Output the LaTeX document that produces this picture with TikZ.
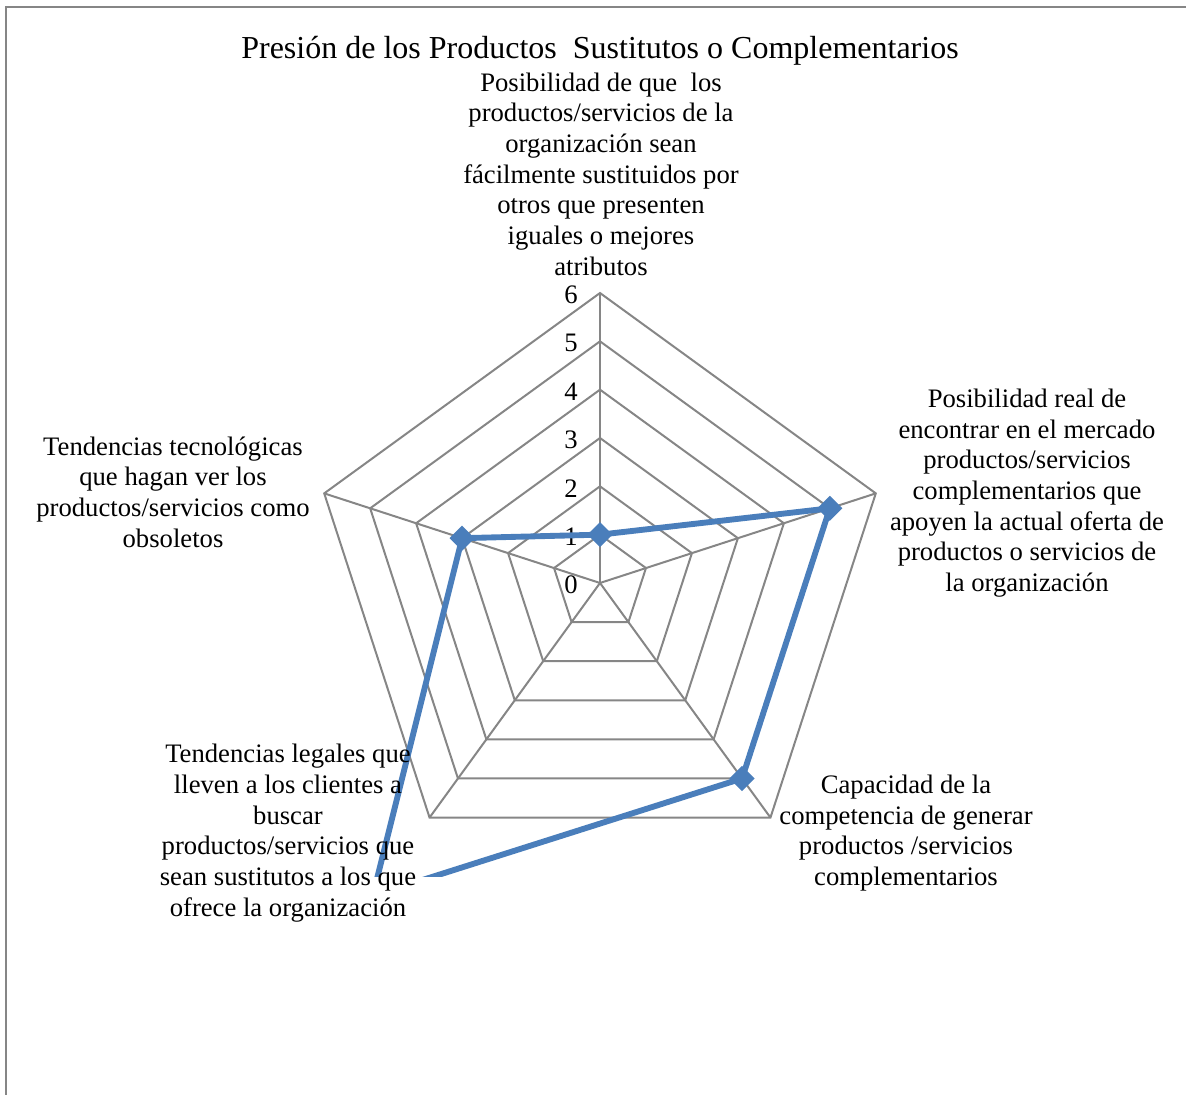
\documentclass[tikz,border=0pt]{standalone}
\usepackage{fontspec}
\setmainfont{Liberation Serif}
\usetikzlibrary{shapes.geometric,calc}
\definecolor{gridgray}{RGB}{134,134,134}
\definecolor{serieblue}{RGB}{74,126,187}
\begin{document}
\begin{tikzpicture}[x=0.75pt,y=0.75pt,
  gridline/.style={draw=gridgray,line width=1.5pt},
  series/.style={draw=serieblue,line width=4.4pt,line join=round},
  marker/.style={shape=diamond,fill=serieblue,inner sep=0pt,minimum size=19pt},
  lbl/.style={align=center,inner sep=0pt,font=\fontsize{20}{23}\selectfont},
  tick/.style={anchor=east,inner sep=0pt,font=\fontsize{20}{23}\selectfont},
  frame/.style={draw=gridgray,line width=1.5pt}]
\useasboundingbox (0,0) rectangle (1186,1095);
% chart frame (top and left edges)
\draw[frame] (1186,1088) -- (6,1088) -- (6,0);
% title
\node[inner sep=0pt,font=\fontsize{24}{28}\selectfont] (title) at (600,1044) {Presión de los Productos\ \ Sustitutos o Complementarios};
% centre of the radar and unit length
\coordinate (O) at (600,512);
\def\u{48.33}
% pentagonal grid
\foreach \k in {1,...,6}{
  \draw[gridline] ($(O)+(90:\k*\u)$) -- ($(O)+(18:\k*\u)$) -- ($(O)+(-54:\k*\u)$) -- ($(O)+(-126:\k*\u)$) -- ($(O)+(162:\k*\u)$) -- cycle;
}
\foreach \a/\n in {90/1,18/2,-54/3,-126/4,162/5}{
  \coordinate (v\n) at ($(O)+(\a:6*\u)$);
  \draw[gridline] (O) -- (v\n);
}
% scale values along the first axis
\foreach \k in {0,...,6}{
  \node[tick] (t\k) at (578,510+\k*\u) {\k};
}
% data points: 1, 5, 5, 8, 3
\coordinate (d1) at ($(O)+(90:1*\u)$);
\coordinate (d2) at ($(O)+(18:5*\u)$);
\coordinate (d3) at ($(O)+(-54:5*\u)$);
\coordinate (d4) at ($(O)+(-126:8*\u)$);
\coordinate (d5) at ($(O)+(162:3*\u)$);
\begin{scope}
  \clip (0,218) rectangle (1186,1095);
  \draw[series] (d1) -- (d2) -- (d3) -- (d4) -- (d5) -- cycle;
\end{scope}
\foreach \n in {1,2,3,5}{
  \node[marker] (m\n) at (d\n) {};
}
% axis captions
\node[lbl] (lab1) at (601,921) {Posibilidad de que\ \ los\\productos/servicios de la\\organización sean\\fácilmente sustituidos por\\otros que presenten\\iguales o mejores\\atributos};
\node[lbl] (lab2) at (1027,602) {Posibilidad real de\\encontrar en el mercado\\productos/servicios\\complementarios que\\apoyen la actual oferta de\\productos o servicios de\\la organización};
\node[lbl] (lab3) at (906,262) {Capacidad de la\\competencia de generar\\productos /servicios\\complementarios};
\node[lbl] (lab4) at (288,262) {Tendencias legales que\\lleven a los clientes a\\buscar\\productos/servicios que\\sean sustitutos a los que\\ofrece la organización};
\node[lbl] (lab5) at (173,603) {Tendencias tecnológicas\\que hagan ver los\\productos/servicios como\\obsoletos};
\end{tikzpicture}
\end{document}
